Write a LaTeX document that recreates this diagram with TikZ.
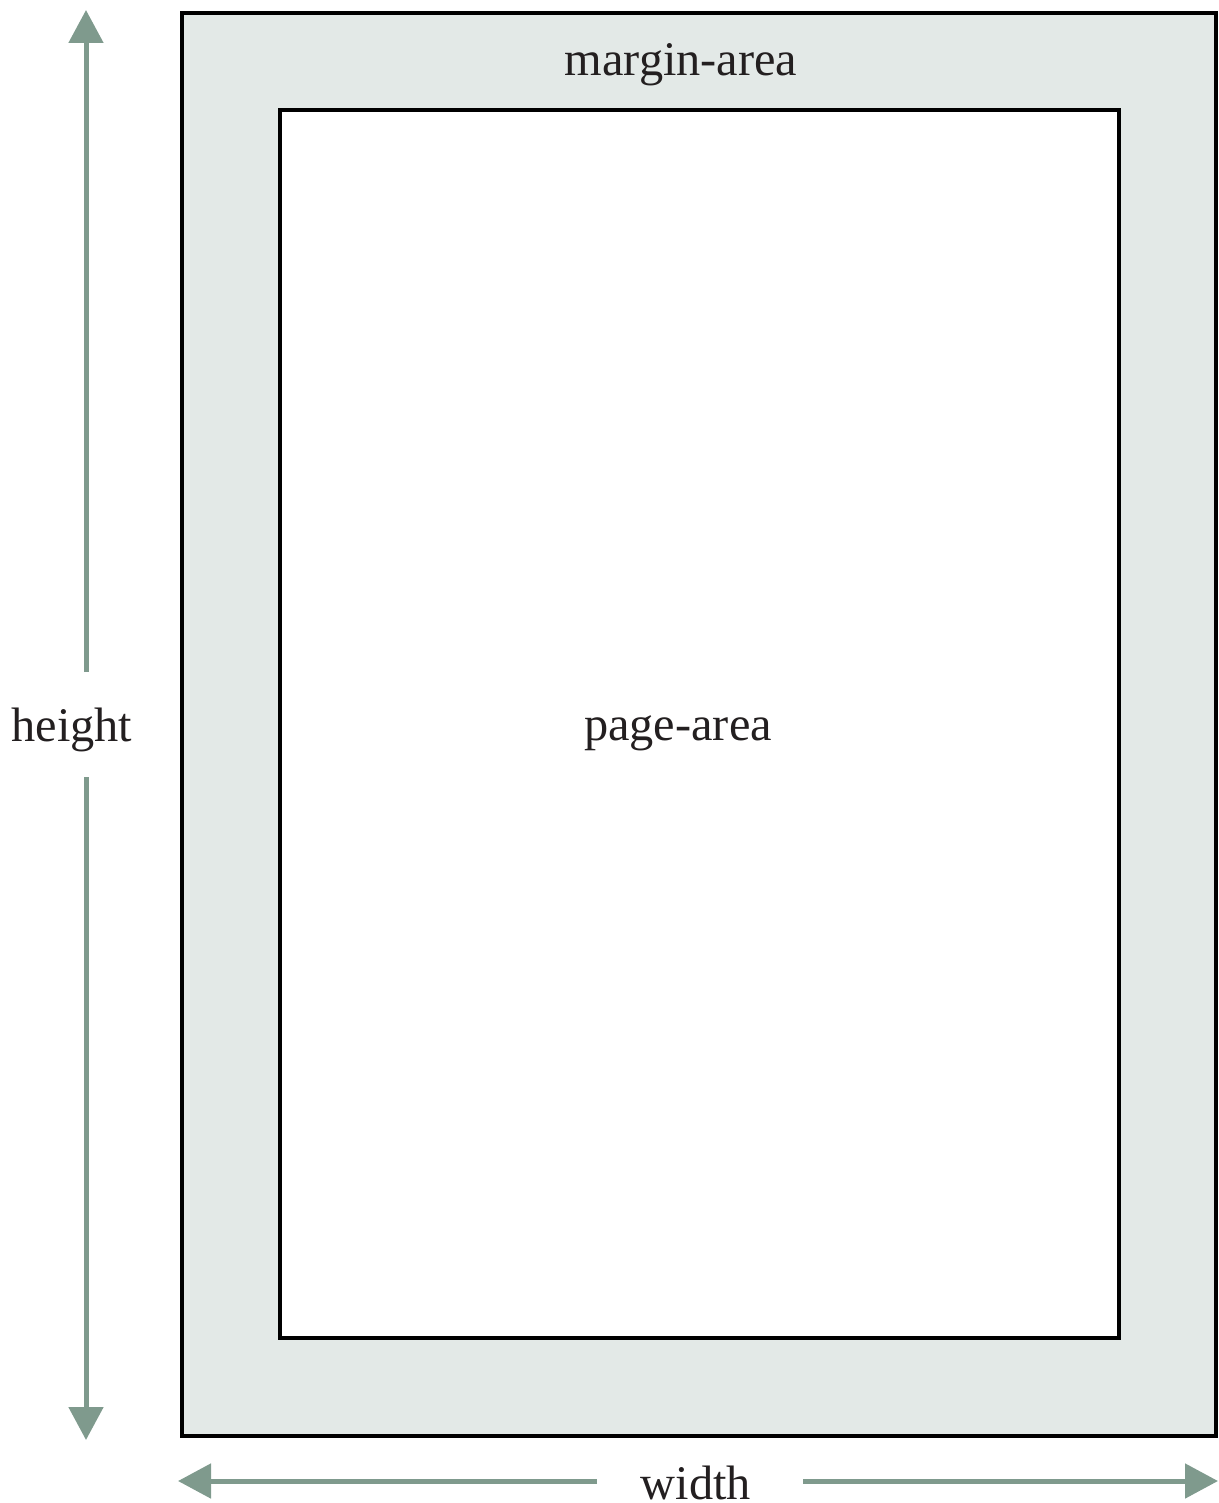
\documentclass[tikz,border=0pt]{standalone}
\usepackage{fontspec}
\setmainfont{Liberation Serif}
\usepackage{xcolor}
\usetikzlibrary{arrows.meta}
\definecolor{dimgreen}{RGB}{127,154,141}
\definecolor{marginfill}{RGB}{227,233,231}
\definecolor{labeltext}{RGB}{35,31,32}

\begin{document}
\begin{tikzpicture}[x=0.2mm, y=-0.2mm,
  dimarrow/.style={draw=dimgreen, line width=1mm, -{Triangle[width=6.8mm,length=6.6mm]}},
  areabox/.style={draw=black, line width=0.9mm},
  arealabel/.style={anchor=base, inner sep=0pt, text=labeltext, font=\fontsize{27.5}{33}\selectfont}]

% --- canvas ---
\useasboundingbox (0,0) rectangle (1218,1503);

% --- margin area and page area ---
\filldraw[areabox, fill=marginfill] (182,13) rectangle (1216,1436);
\filldraw[areabox, fill=white] (280,110) rectangle (1119,1338);

% --- labels ---
\node[arealabel] (margin) at (681,75) {margin-area};
\node[arealabel] (page) at (678,740) {page-area};
\node[arealabel] (height) at (72,741) {height};
\node[arealabel] (width) at (696,1499) {width};

% --- dimension arrows ---
\coordinate (htop) at (86,10);
\coordinate (hbot) at (86,1440);
\coordinate (hgapup) at (86,672);
\coordinate (hgapdown) at (86,777);
\coordinate (wleft) at (178,1481);
\coordinate (wright) at (1218,1481);
\coordinate (wgapleft) at (597,1481);
\coordinate (wgapright) at (803,1481);

\draw[dimarrow] (hgapup) -- (htop);
\draw[dimarrow] (hgapdown) -- (hbot);
\draw[dimarrow] (wgapleft) -- (wleft);
\draw[dimarrow] (wgapright) -- (wright);

\end{tikzpicture}
\end{document}
